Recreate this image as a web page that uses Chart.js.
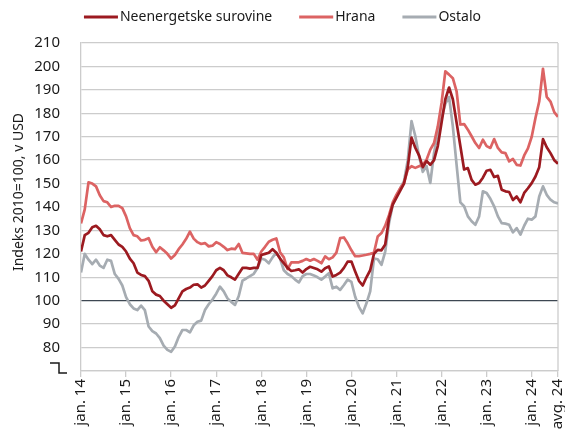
<!DOCTYPE html>
<html>
<head>
<meta charset="utf-8">
<script src="https://cdn.jsdelivr.net/npm/chart.js@4.4.1/dist/chart.umd.min.js"></script>
<style>
  html, body { margin: 0; padding: 0; background: #fff; }
  #wrap { width: 565px; height: 434px; position: relative; }
</style>
</head>
<body>
<div id="wrap"><canvas id="chart"></canvas></div>
<script>
// Monthly values, jan. 2014 - avg. 2024 (index 2010 = 100)
const neenergetske = [
  121, 128, 129, 131.4, 132, 130.5, 128, 127.5, 128, 126, 124, 123,
  121, 118, 116, 112, 111, 110.5, 108.5, 104, 102.6, 102, 100, 98.5,
  97, 98, 101, 104, 105, 105.6, 106.8, 107, 105.6, 106.5, 108.5, 110.5,
  113, 114, 113, 110.8, 110, 109, 111.5, 114, 114, 113.7, 114, 114,
  119.5, 120, 120.5, 122, 120.5, 118, 116, 114, 112.7, 113, 113.4, 112,
  113.5, 114.5, 114, 113.4, 112.4, 113.9, 114.6, 110.3, 111, 112, 114, 116.7,
  116.7, 112.5, 108.5, 106.5, 110, 113, 120, 121.7, 121.5, 124, 135, 141,
  144, 147, 150, 157, 169.6, 165.3, 162, 157, 159.6, 158, 160, 166,
  176, 186, 191, 186, 176, 166, 156, 156.6, 151.6, 149.5, 150.2, 152.5,
  155.5, 155.9, 152.8, 153.3, 147.4, 146.7, 146.4, 143, 144.5, 142, 146, 148,
  150.2, 153, 157, 169, 165.5, 163, 160, 158.5
];
const hrana = [
  133, 139, 150.5, 150, 148.8, 145, 142.5, 142, 140, 140.5, 140.5, 139.5,
  136, 131, 128, 127.5, 125.7, 126, 126.7, 123, 120.7, 122.8, 121.5, 120,
  118, 119.5, 122, 124, 126.4, 129.5, 126.5, 125, 124.2, 124.6, 123.2, 123.5,
  125, 124.2, 123, 121.6, 122.2, 122, 124.2, 120.4, 120.2, 120, 120, 117.5,
  121, 123, 125.2, 126, 126.6, 120.7, 118.5, 113.5, 116.4, 116.4, 116.4, 117,
  117.8, 117.1, 117.8, 117, 116, 118.9, 117.7, 118.5, 120.5, 126.7, 127, 124.5,
  121.5, 119, 119, 119.3, 119.6, 120, 120.5, 127.4, 128.9, 132, 136.5, 142,
  145.3, 148, 150.3, 156, 157.4, 156.7, 157.4, 158, 160.2, 164.5, 167.3, 174.4,
  184.4, 197.9, 196.5, 195, 189.4, 175.2, 175.4, 173, 170.2, 167.3, 165.2, 168.7,
  166, 165.2, 169, 165.2, 163.3, 163, 159.5, 160.5, 158, 157.7, 162, 165,
  170, 178, 185, 199, 187, 185, 180.5, 178.5
];
const ostalo = [
  112, 120, 117.5, 115.6, 117.5, 115, 114, 117.5, 117, 111.4, 109.3, 106.5,
  101.5, 98.5, 96.7, 96, 97.9, 96, 89, 87, 86, 84, 80.8, 79,
  78.2, 80.5, 84.5, 87.5, 87.5, 86.5, 89.5, 91, 91.5, 96, 98.5, 100.5,
  103, 106, 104, 101, 99.5, 98.2, 102, 108.6, 109.5, 110.5, 111.5, 114,
  118, 117.5, 116, 118.5, 120.5, 118, 113, 111.4, 110.5, 109, 107.8, 110.5,
  111.4, 111.4, 110.8, 110, 109, 110.3, 111.7, 105.3, 106, 104.6, 106.7, 109,
  108, 101.7, 97.4, 94.6, 98.9, 104, 118, 117.7, 115.3, 121, 133, 141,
  144.5, 148, 151, 160, 176.7, 170.3, 161.7, 155, 157.4, 150.3, 163.1, 172,
  178, 184, 187, 174.4, 158, 142, 140.3, 136, 133.9, 132.4, 136, 146.7,
  146, 143.5, 140.3, 136, 133.1, 132.9, 132.4, 129.2, 131, 128.2, 132, 135,
  134.6, 136, 144.5, 148.8, 145.2, 143.1, 142, 141.5
];

// x-axis tick positions (month index) and their labels
const xTickPos = [0, 12, 24, 36, 48, 60, 72, 84, 96, 108, 120, 127];
const xTickLabels = ['jan. 14', 'jan. 15', 'jan. 16', 'jan. 17', 'jan. 18', 'jan. 19',
  'jan. 20', 'jan. 21', 'jan. 22', 'jan. 23', 'jan. 24', 'avg. 24'];
const seriesNames = ['Neenergetske surovine', 'Hrana', 'Ostalo'];
const yTitle = 'Indeks 2010=100, v USD';

const textColor = '#1a1a1a';
const gridColor = '#cccccc';
const font = '"Noto Sans", sans-serif';

const toPoints = arr => arr.map((v, i) => ({ x: i, y: v }));

// draws legend, y title, right frame and the broken-axis mark
const extras = {
  id: 'extras',
  beforeDatasetsDraw(chart) {
    const { ctx, chartArea } = chart;
    ctx.save();
    ctx.strokeStyle = gridColor;
    ctx.lineWidth = 1.3;
    ctx.beginPath();
    ctx.moveTo(chartArea.right, chartArea.top);
    ctx.lineTo(chartArea.right, chartArea.bottom);
    ctx.stroke();
    ctx.restore();
  },
  afterDraw(chart) {
    const { ctx, chartArea, scales } = chart;
    ctx.save();

    // legend
    ctx.font = '14px ' + font;
    ctx.textBaseline = 'middle';
    const items = chart.data.datasets.map(ds => ({
      label: ds.label, color: ds.borderColor, w: ctx.measureText(ds.label).width
    }));
    const lineW = 34, gap = 2, spacing = 27, ly = 17;
    const total = items.reduce((s, it) => s + lineW + gap + it.w, 0) + spacing * (items.length - 1);
    let x = chart.width / 2 - total / 2;
    items.forEach(it => {
      ctx.strokeStyle = it.color;
      ctx.lineWidth = 3;
      ctx.beginPath();
      ctx.moveTo(x, ly);
      ctx.lineTo(x + lineW, ly);
      ctx.stroke();
      ctx.fillStyle = textColor;
      ctx.textAlign = 'left';
      ctx.fillText(it.label, x + lineW + gap, ly);
      x += lineW + gap + it.w + spacing;
    });

    // y-axis title
    ctx.save();
    ctx.translate(19, chartArea.top + 149);
    ctx.rotate(-Math.PI / 2);
    ctx.textAlign = 'center';
    ctx.fillText(yTitle, 0, 0);
    ctx.restore();

    // broken axis mark instead of the lowest label
    const y0 = Math.round(scales.y.getPixelForValue(70));
    ctx.strokeStyle = textColor;
    ctx.lineWidth = 1.5;
    ctx.beginPath();
    ctx.moveTo(50, y0 - 8);
    ctx.lineTo(59, y0 - 8);
    ctx.lineTo(59, y0 + 2);
    ctx.lineTo(67, y0 + 2);
    ctx.stroke();

    ctx.restore();
  }
};

const chart = new Chart(document.getElementById('chart'), {
  type: 'line',
  data: {
    datasets: [
      { label: seriesNames[0], data: toPoints(neenergetske), borderColor: '#9c1a20' },
      { label: seriesNames[1], data: toPoints(hrana), borderColor: '#dc6363' },
      { label: seriesNames[2], data: toPoints(ostalo), borderColor: '#a6acb2' }
    ]
  },
  options: {
    responsive: true,
    maintainAspectRatio: false,
    animation: false,
    layout: { padding: { top: 43, right: 7, left: 0, bottom: 0 } },
    elements: {
      line: { borderWidth: 2.7, tension: 0, borderJoinStyle: 'round' },
      point: { radius: 0 }
    },
    plugins: {
      legend: { display: false },
      tooltip: { enabled: false }
    },
    scales: {
      x: {
        type: 'linear',
        min: 0,
        max: 127,
        afterBuildTicks: axis => { axis.ticks = xTickPos.map(v => ({ value: v })); },
        afterFit: axis => { axis.height = 63; axis.paddingLeft = 0; axis.paddingRight = 0; },
        ticks: {
          autoSkip: false,
          minRotation: 90,
          maxRotation: 90,
          padding: 2,
          color: textColor,
          font: { family: font, size: 15 },
          callback: v => xTickLabels[xTickPos.indexOf(v)]
        },
        grid: { drawOnChartArea: false, drawTicks: true, tickLength: 6, tickColor: gridColor, lineWidth: 1.3 },
        border: { color: gridColor, width: 1.3 }
      },
      y: {
        min: 70,
        max: 210,
        afterFit: axis => { axis.width = 81; axis.paddingTop = 0; axis.paddingBottom = 0; },
        ticks: {
          stepSize: 10,
          padding: 21,
          color: textColor,
          font: { family: font, size: 15 },
          callback: v => (v === 70 ? '' : v)
        },
        grid: {
          drawTicks: false,
          color: c => (c.tick.value === 100 ? '#3d4752' : gridColor),
          lineWidth: c => (c.tick.value === 100 ? 1.3 : 1.3)
        },
        border: { color: gridColor, width: 1.3 }
      }
    }
  },
  plugins: [extras]
});
</script>
</body>
</html>
